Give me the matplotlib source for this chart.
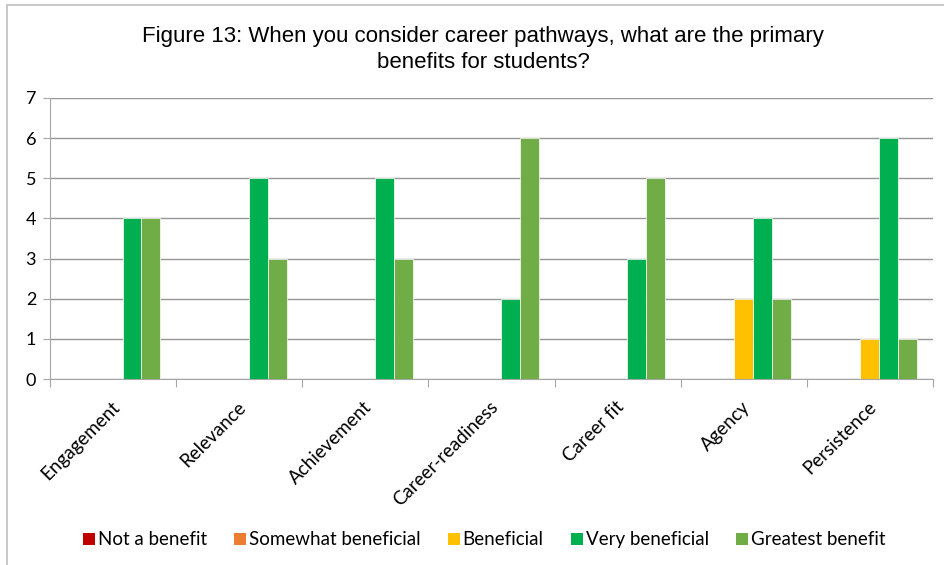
import matplotlib
matplotlib.use("Agg")
import matplotlib.pyplot as plt
import numpy as np
from matplotlib.patches import Rectangle

categories = ["Engagement", "Relevance", "Achievement", "Career-readiness", "Career fit", "Agency", "Persistence"]
series_names = ["Not a benefit", "Somewhat beneficial", "Beneficial", "Very beneficial", "Greatest benefit"]
not_a_benefit = [0, 0, 0, 0, 0, 0, 0]
somewhat_beneficial = [0, 0, 0, 0, 0, 0, 0]
beneficial = [0, 0, 0, 0, 0, 2, 1]
very_beneficial = [4, 5, 5, 2, 3, 4, 6]
greatest_benefit = [4, 3, 3, 6, 5, 2, 1]
colors = ["#C00000", "#ED7D31", "#FFC000", "#00B050", "#70AD47"]

W, H = 944, 565
fig = plt.figure(figsize=(W/100, H/100), dpi=100)
ax = fig.add_axes([50/W, 1-379/H, 883/W, 281/H])

data = [not_a_benefit, somewhat_beneficial, beneficial, very_beneficial, greatest_benefit]
x = np.arange(len(categories))
bw = 0.15
for i, (vals, c, name) in enumerate(zip(data, colors, series_names)):
    ax.bar(x + (i-2)*bw, vals, width=bw, color=c, label=name, edgecolor="white", linewidth=0.5, zorder=3)

ax.set_xlim(-0.5, len(categories)-0.5)
ax.set_ylim(0, 7)
ax.set_yticks(range(8))
ax.yaxis.grid(True, color="#969696", linewidth=1, zorder=0)
for s in ["top", "right"]:
    ax.spines[s].set_visible(False)
for s in ["left", "bottom"]:
    ax.spines[s].set_color("#A6A6A6")
ax.tick_params(axis="y", length=5, color="#A6A6A6", labelsize=13, pad=5)
ax.set_xticks(np.arange(-0.5, len(categories), 1))
ax.set_xticklabels([])
ax.tick_params(axis="x", length=6, color="#A6A6A6", direction="out")
for lab in ax.get_yticklabels():
    lab.set_fontfamily("Lato")

for i, cat in enumerate(categories):
    ax.annotate(cat, xy=(i-0.02, 0), xycoords=("data", "axes fraction"), xytext=(0, -14), textcoords="offset points",
                rotation=45, ha="right", va="top", rotation_mode="anchor", fontsize=13.5, fontfamily="Lato")

fig.text(483/W, 1-49.5/H, "Figure 13: When you consider career pathways, what are the primary\nbenefits for students?",
         ha="center", va="center", fontsize=16, fontfamily="Liberation Sans", linespacing=1.3)

# manual legend (keeps all labels on a common baseline)
renderer = fig.canvas.get_renderer()
px = 83
base_y = 545
msize = 12
for name, c in zip(series_names, colors):
    fig.add_artist(Rectangle((px/W, 1-(base_y)/H), msize/W, msize/H, transform=fig.transFigure,
                             facecolor=c, edgecolor="none"))
    t = fig.text((px+msize+3)/W, 1-base_y/H, name, ha="left", va="baseline", fontsize=13.5, fontfamily="Lato")
    wpx = t.get_window_extent(renderer).width
    px = px + msize + 3 + wpx + 27

fig.add_artist(Rectangle((7/W, -0.1), 1.2, 1.1 - 5/H, transform=fig.transFigure, fill=False, edgecolor="#BFBFBF", linewidth=1.2))

fig.savefig("out.png", dpi=100, facecolor="white")
